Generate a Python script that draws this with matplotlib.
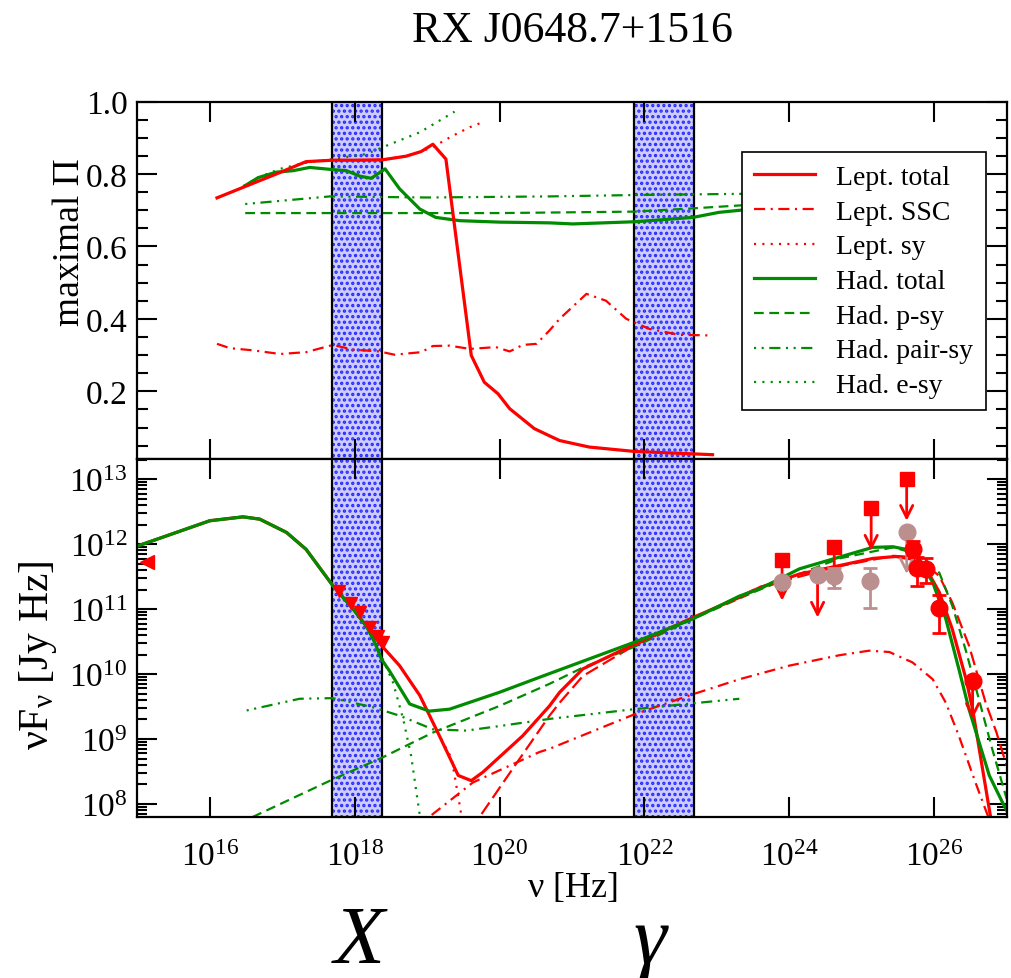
import numpy as np
import matplotlib
matplotlib.use('Agg')
import matplotlib.pyplot as plt
from matplotlib.ticker import FixedLocator, NullLocator, MultipleLocator, LogLocator, NullFormatter

plt.rcParams['font.family'] = ['Liberation Serif', 'DejaVu Serif']
plt.rcParams['mathtext.fontset'] = 'custom'
plt.rcParams['mathtext.rm'] = 'Liberation Serif'
plt.rcParams['mathtext.it'] = 'Liberation Serif:italic'
plt.rcParams['lines.scale_dashes'] = False
plt.rcParams['hatch.linewidth'] = 1.6

RED = '#ff0000'
GREEN = '#008b00'
GREY = '#bc8f8f'

# ---------------- top panel: maximal polarisation (x = log10 nu) ----------------
lt_x = [16.10, 16.46, 16.92, 17.33, 17.70, 18.00, 18.38, 18.71, 18.92, 19.08, 19.26,
        19.61, 19.79, 19.98, 20.14, 20.48, 20.69, 20.83, 21.24, 21.86, 22.94]
lt_P = [0.734, 0.763, 0.800, 0.834, 0.838, 0.838, 0.839, 0.849, 0.862, 0.882, 0.841,
        0.299, 0.225, 0.193, 0.152, 0.097, 0.077, 0.064, 0.046, 0.034, 0.025]

lssc_x = [16.10, 16.28, 16.60, 16.97, 17.33, 17.70, 17.98, 18.34, 18.55, 18.92, 19.08,
          19.31, 19.59, 19.95, 20.14, 20.32, 20.51, 20.69, 20.83, 21.20, 21.47, 21.75,
          22.07, 22.48, 22.94]
lssc_P = [0.331, 0.319, 0.313, 0.303, 0.308, 0.328, 0.315, 0.310, 0.301, 0.308, 0.325,
          0.326, 0.317, 0.322, 0.310, 0.328, 0.331, 0.368, 0.400, 0.469, 0.450, 0.400,
          0.372, 0.356, 0.354]

lsy_x = [16.10, 16.46, 16.92, 17.33, 17.70, 18.00, 18.38, 18.71, 18.92, 19.08, 19.20,
         19.36, 19.59, 19.77]
lsy_P = [0.734, 0.763, 0.800, 0.834, 0.838, 0.838, 0.839, 0.849, 0.862, 0.875, 0.888,
         0.906, 0.929, 0.943]

ht_x = [16.49, 16.67, 16.92, 17.15, 17.38, 17.70, 17.89, 18.07, 18.23, 18.42, 18.62,
        18.90, 19.12, 19.45, 20.00, 20.69, 21.01, 21.86, 22.67, 23.03, 23.33, 24.0]
ht_P = [0.768, 0.790, 0.805, 0.809, 0.818, 0.812, 0.809, 0.794, 0.788, 0.814, 0.759,
        0.703, 0.680, 0.671, 0.667, 0.665, 0.662, 0.668, 0.680, 0.694, 0.700, 0.710]

hp_x = [16.49, 18.0, 20.0, 21.86, 22.67, 23.31, 24.0]
hp_P = [0.692, 0.692, 0.692, 0.696, 0.705, 0.713, 0.720]

hpair_x = [16.49, 17.66, 19.0, 20.69, 21.93, 23.31, 24.0]
hpair_P = [0.717, 0.738, 0.735, 0.738, 0.742, 0.745, 0.746]

hesy_x = [16.46, 16.67, 16.97, 17.30, 17.70, 18.16, 18.44, 18.90, 19.38]
hesy_P = [0.766, 0.790, 0.814, 0.830, 0.841, 0.855, 0.878, 0.915, 0.972]

# ---------------- bottom panel: SED (log10 nu, log10 nuFnu) ----------------
sync_x = [15.00, 16.00, 16.46, 16.69, 17.06, 17.33, 17.70, 17.98, 18.16]
sync_y = [11.97, 12.36, 12.42, 12.385, 12.18, 11.92, 11.36, 11.00, 10.74]

Lt_x = [18.37, 18.62, 18.90, 19.17, 19.43, 19.61, 19.77, 20.32, 20.69, 20.83, 21.15,
        21.86, 22.67, 23.31, 23.59, 24.14, 24.69, 25.15, 25.47, 25.70, 25.89, 26.07,
        26.25, 26.44, 26.53, 26.76, 26.90]
Lt_y = [10.44, 10.13, 9.67, 9.05, 8.44, 8.36, 8.49, 9.05, 9.51, 9.72, 10.08,
        10.46, 10.87, 11.18, 11.33, 11.54, 11.67, 11.78, 11.81, 11.77, 11.62, 11.26,
        10.69, 9.92, 9.46, 7.92, 7.0]

Lsy_x = [18.37, 18.62, 18.90, 19.17, 19.34, 19.47, 19.55]
Lsy_y = [10.44, 10.13, 9.67, 9.05, 8.70, 7.85, 7.3]

Lssc_x = [18.80, 19.63, 20.55, 20.69, 21.86, 22.67, 23.31, 24.00, 24.69, 25.10, 25.38,
          25.70, 25.98, 26.16, 26.34, 26.57, 26.74, 26.85]
Lssc_y = [7.6, 8.33, 8.80, 8.85, 9.38, 9.69, 9.92, 10.13, 10.29, 10.36, 10.34,
          10.18, 9.92, 9.56, 9.05, 8.33, 7.82, 7.5]

Lec_x = [19.60, 20.18, 20.69, 20.83, 21.15, 21.86, 22.67, 23.59, 24.69, 25.43, 25.75,
         26.07, 26.25, 26.48, 26.71, 26.86, 27.0]
Lec_y = [7.6, 8.54, 9.36, 9.56, 9.97, 10.44, 10.86, 11.34, 11.66, 11.82, 11.80,
         11.51, 11.10, 10.44, 9.56, 9.10, 8.59]

Ht_x = [18.28, 18.37, 18.48, 18.76, 19.03, 19.31, 20.00, 20.55, 21.86, 22.67, 23.31,
        23.59, 24.14, 24.69, 25.15, 25.43, 25.61, 25.79, 25.98, 26.16, 26.34, 26.48,
        26.76, 26.94, 27.0]
Ht_y = [10.48, 10.23, 10.05, 9.54, 9.43, 9.46, 9.72, 9.95, 10.49, 10.85, 11.20,
        11.31, 11.62, 11.80, 11.95, 11.96, 11.92, 11.77, 11.41, 10.85, 10.08, 9.46,
        8.44, 8.03, 7.9]

Hp_x = [16.40, 17.70, 18.39, 19.08, 20.00, 20.69, 21.15, 21.86, 22.67, 23.59, 24.69,
        25.43, 25.70, 26.07, 26.25, 26.44, 26.62, 26.80, 27.0]
Hp_y = [7.7, 8.38, 8.72, 9.10, 9.51, 9.85, 10.10, 10.42, 10.85, 11.30, 11.78,
        11.95, 11.87, 11.56, 11.05, 10.35, 9.60, 8.85, 8.08]

Hpair_x = [16.51, 17.24, 17.70, 18.25, 18.62, 19.08, 19.54, 20.00, 20.69, 21.86, 22.67, 23.31]
Hpair_y = [9.44, 9.62, 9.63, 9.49, 9.36, 9.15, 9.13, 9.20, 9.31, 9.46, 9.55, 9.62]

Hesy_x = [18.28, 18.41, 18.53, 18.67, 18.78, 18.90, 18.95]
Hesy_y = [10.48, 10.18, 9.87, 9.31, 8.74, 7.82, 7.5]

# observational data
xr_x = [17.79, 17.95, 18.07, 18.21, 18.32, 18.39]
xr_y = [11.28, 11.10, 10.95, 10.72, 10.59, 10.49]
opt_x = [15.13]
opt_y = [11.73]

ulsq_x = [23.90, 24.62, 25.13, 25.62]
ulsq_y = [11.76, 11.96, 12.55, 13.01]
ulsq_tip = [11.13, 11.31, 11.90, 12.36]
ul_extra_x = [24.39]
ul_extra_y = [11.52]
ul_extra_tip = [10.87]

gc_x = [23.90, 24.39, 24.62, 25.12]
gc_y = [11.41, 11.52, 11.51, 11.43]
gc_lo = [11.41, 11.52, 11.32, 11.01]
gc_hi = [11.41, 11.52, 11.63, 11.64]
gul_x = [25.62]
gul_y = [12.19]
gul_tip = [11.54]

rc_x = [25.71, 25.76, 25.88, 26.06]
rc_y = [11.93, 11.64, 11.62, 11.01]
rc_lo = [11.83, 11.36, 11.40, 10.64]
rc_hi = [12.05, 11.80, 11.78, 11.21]
rul_x = [26.53]
rul_y = [9.90]
rul_tip = [9.31]

bands = [(4.84e17, 2.42e18), (7.25e21, 4.84e22)]

# ---------------- figure ----------------
fig = plt.figure(figsize=(10.11, 9.79), dpi=100)
ax1 = fig.add_axes([0.1358, 0.5301, 0.8599, 0.3652])
ax2 = fig.add_axes([0.1358, 0.1641, 0.8599, 0.3660])

def p(v):
    return 10 ** np.asarray(v, dtype=float)

LW = 2.3
LWB = 1.6
DASH = (0, (7, 4))
DASHDOT = (0, (8, 4, 1.5, 4))
DASHDOTDOT = (0, (1.5, 4, 1.5, 4, 8, 4))
DOT = (0, (1.5, 4.5))

for ax in (ax1, ax2):
    ax.set_xscale('log')
    ax.set_xlim(1e15, 1e27)
    for lo, hi in bands:
        ax.axvspan(lo, hi, facecolor='#ccccff', edgecolor='#2828ff', hatch='...',
                   lw=0, zorder=0.5)
        ax.axvline(lo, color='k', lw=1.6, zorder=0.6)
        ax.axvline(hi, color='k', lw=1.6, zorder=0.6)

# top panel lines
ax1.plot(p(lt_x), lt_P, color=RED, lw=LW, label='Lept. total', zorder=3)
ax1.plot(p(lssc_x), lssc_P, color=RED, lw=LWB, ls=DASHDOT, label='Lept. SSC')
ax1.plot(p(lsy_x), lsy_P, color=RED, lw=LWB, ls=DOT, label='Lept. sy')
ax1.plot(p(ht_x), ht_P, color=GREEN, lw=LW, label='Had. total')
ax1.plot(p(hp_x), hp_P, color=GREEN, lw=LWB, ls=DASH, label='Had. p-sy')
ax1.plot(p(hpair_x), hpair_P, color=GREEN, lw=LWB, ls=DASHDOTDOT, label='Had. pair-sy')
ax1.plot(p(hesy_x), hesy_P, color=GREEN, lw=LWB, ls=DOT, label='Had. e-sy')

ax1.set_ylim(0.013, 1.0)
ax1.yaxis.set_major_locator(FixedLocator([0.2, 0.4, 0.6, 0.8, 1.0]))
ax1.yaxis.set_minor_locator(MultipleLocator(0.05))
ax1.set_yticklabels(['0.2', '0.4', '0.6', '0.8', '1.0'])
ax1.set_ylabel('maximal Π', fontsize=27)
ax1.yaxis.set_label_coords(-0.058, 0.61)

leg = ax1.legend(loc='upper right', bbox_to_anchor=(0.976, 0.858), borderaxespad=0,
                 fontsize=20, frameon=True, fancybox=False, framealpha=1,
                 edgecolor='k', handlelength=2.2, handletextpad=0.75,
                 labelspacing=0.33, borderpad=0.45)
leg.get_frame().set_linewidth(1.2)
leg.set_zorder(10)

# bottom panel lines
sx, sy = list(sync_x), list(sync_y)
ax2.plot(p(sx + Lsy_x), p(sy + Lsy_y), color=RED, lw=LWB, ls=DOT)
ax2.plot(p(sx + Hesy_x), p(sy + Hesy_y), color=GREEN, lw=LWB, ls=DOT)
ax2.plot(p(Lssc_x), p(Lssc_y), color=RED, lw=LWB, ls=DASHDOT)
ax2.plot(p(Lec_x), p(Lec_y), color=RED, lw=LWB, ls=(0, (10, 4)))
ax2.plot(p(Hp_x), p(Hp_y), color=GREEN, lw=LWB, ls=DASH)
ax2.plot(p(Hpair_x), p(Hpair_y), color=GREEN, lw=LWB, ls=DASHDOTDOT)
ax2.plot(p(sx + Lt_x), p(sy + Lt_y), color=RED, lw=LW)
ax2.plot(p(sx + Ht_x), p(sy + Ht_y), color=GREEN, lw=LW)

# data
ax2.plot(p(xr_x), p(xr_y), 'v', color=RED, ms=9, zorder=5)
ax2.plot(p(opt_x), p(opt_y), '<', color=RED, ms=10, zorder=5, clip_on=False)

def arrow(x, y0, y1, color):
    ax2.annotate('', xy=(10 ** x, 10 ** y1), xytext=(10 ** x, 10 ** y0),
                 arrowprops=dict(arrowstyle='->', color=color, lw=2.0,
                                 mutation_scale=22, shrinkA=0, shrinkB=0), zorder=5)

for x, y, t in zip(ulsq_x, ulsq_y, ulsq_tip):
    arrow(x, y, t, RED)
for x, y, t in zip(ul_extra_x, ul_extra_y, ul_extra_tip):
    arrow(x, y, t, RED)
ax2.plot(p(ulsq_x), p(ulsq_y), 's', color=RED, ms=10, zorder=6)

gy = p(gc_y)
ax2.errorbar(p(gc_x), gy, yerr=[gy - p(gc_lo), p(gc_hi) - gy], fmt='o', color=GREY,
             ms=12, capsize=5, elinewidth=2, capthick=2, zorder=6)
for x, y, t in zip(gul_x, gul_y, gul_tip):
    arrow(x, y, t, GREY)
ax2.plot(p(gul_x), p(gul_y), 'o', color=GREY, ms=12, zorder=6)

ry = p(rc_y)
ax2.errorbar(p(rc_x), ry, yerr=[ry - p(rc_lo), p(rc_hi) - ry], fmt='o', color=RED,
             ms=12, capsize=5, elinewidth=2, capthick=2, zorder=7)
for x, y, t in zip(rul_x, rul_y, rul_tip):
    arrow(x, y, t, RED)
ax2.plot(p(rul_x), p(rul_y), 'o', color=RED, ms=12, zorder=7)

ax2.set_yscale('log')
ax2.set_ylim(10 ** 7.795, 10 ** 13.31)
ax2.yaxis.set_major_locator(LogLocator(base=10, numticks=20))
ax2.yaxis.set_minor_locator(LogLocator(base=10, subs=np.arange(2, 10), numticks=50))
ax2.yaxis.set_minor_formatter(NullFormatter())
ax2.set_ylabel(r'$\mathrm{\nu F_{\nu}}$ [Jy Hz]', fontsize=30)
ax2.yaxis.set_label_coords(-0.090, 0.456)
ax2.set_xlabel(r'$\mathrm{\nu}$ [Hz]', fontsize=26, va='top')
ax2.xaxis.set_label_coords(0.5, -0.147)

for ax in (ax1, ax2):
    ax.xaxis.set_major_locator(FixedLocator([1e16, 1e18, 1e20, 1e22, 1e24, 1e26]))
    ax.xaxis.set_minor_locator(NullLocator())
    ax.tick_params(which='both', direction='in', top=True, right=True, width=1.5,
                   labelsize=24)
    ax.tick_params(which='major', length=14.5, pad=7)
    ax.tick_params(which='minor', length=8)
    for s in ax.spines.values():
        s.set_linewidth(1.6)
ax1.tick_params(labelbottom=False)
ax2.tick_params(axis='x', which='major', pad=17)
ax2.tick_params(axis='y', which='minor', length=7)

fig.text(0.5658, 1 - 31 / 979, 'RX J0648.7+1516', ha='center', va='center', fontsize=31.5)
fig.text(359 / 1011, 1 - 963 / 979, 'X', ha='center', va='baseline', fontsize=60,
         style='italic')
fig.text(650 / 1011, 1 - 963 / 979, 'γ', ha='center', va='baseline', fontsize=60,
         style='italic')

fig.savefig('out.png', dpi=100)
